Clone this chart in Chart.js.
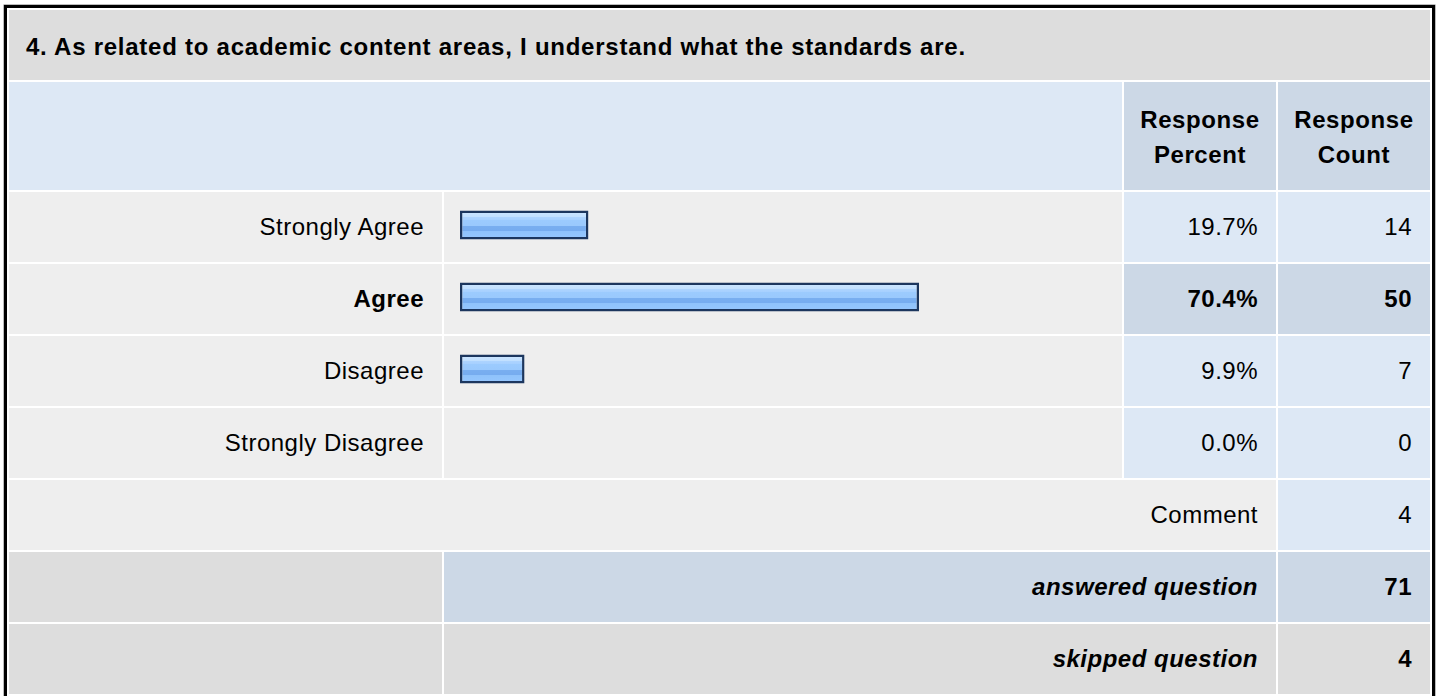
<!DOCTYPE html>
<html><head>
<meta charset="utf-8">
<style>
  body {
    margin: 0;
    background: #fff;
    overflow: hidden;
    font-family: "Liberation Sans", Arial, Helvetica, sans-serif;
    color: #000;
  }

  .frame {
    position: absolute;
    left: 4px;
    top: 5px;
    border: 3px solid #000;
    box-shadow: 0 0 0 0.5px #777;
  }

  table {
    border-collapse: separate;
    border-spacing: 2px;
    table-layout: fixed;
    width: 1425px;
  }

  td, th {
    padding: 0 18px;
    height: 70px;
    font-size: 24px;
    letter-spacing: 0.5px;
    font-weight: normal;
    vertical-align: middle;
    background: #eeeeee;
    white-space: nowrap;
  }

  td.title {
    background: #dddddd;
    font-weight: bold;
    text-align: left;
    height: 66px;
    padding: 4px 0 0 17px;
    letter-spacing: 0.75px;
  }

  .head td { height: 108px; background: #dde8f5; }
  .head th {
    height: 106px;
    background: #ccd8e6;
    font-weight: bold;
    text-align: center;
    line-height: 35px;
    letter-spacing: 0.6px;
    padding: 2px 0 0 0;
  }

  .lbl { text-align: right; }
  .num { text-align: right; background: #dde8f5; }
  .hi { font-weight: bold; }
  .num.hi { background: #ccd8e6; }
  .grey { background: #dddddd; }
  .blue { background: #ccd8e6; }
  .tot { font-weight: bold; font-style: italic; text-align: right; }
  .cnt { font-weight: bold; text-align: right; }

  #bars {
    position: absolute;
    left: 444px;
    top: 189px;
    width: 678px;
    height: 288px;
    z-index: 2;
  }
</style>
<script src="https://cdn.jsdelivr.net/npm/chart.js"></script>
</head>
<body>
<div class="frame">
  <table>
    <colgroup>
      <col style="width:433px"><col style="width:678px"><col style="width:152px"><col style="width:152px">
    </colgroup>
    <tbody id="rows"></tbody>
  </table>
</div>
<div id="bars"><canvas id="chart"></canvas></div>

<script>
const question = '4. As related to academic content areas, I understand what the standards are.';
const headers = ['Response Percent', 'Response Count'];
const categories = ['Strongly Agree', 'Agree', 'Disagree', 'Strongly Disagree'];
const percents = [19.7, 70.4, 9.9, 0.0];
const counts = [14, 50, 7, 0];
const commentCount = 4;
const answered = 71;
const skipped = 4;

// build the table around the chart
const rowsEl = document.getElementById('rows');
const maxIdx = counts.indexOf(Math.max(...counts));
let html = '<tr><td class="title" colspan="4">' + question + '</td></tr>';
html += '<tr class="head"><td colspan="2"></td>' +
  headers.map(h => '<th>' + h.replace(' ', '<br>') + '</th>').join('') + '</tr>';
categories.forEach((c, i) => {
  const hi = i === maxIdx ? ' hi' : '';
  html += '<tr><td class="lbl' + hi + '">' + c + '</td><td></td>' +
    '<td class="num' + hi + '">' + percents[i].toFixed(1) + '%</td>' +
    '<td class="num' + hi + '">' + counts[i] + '</td></tr>';
});
html += '<tr><td class="lbl" colspan="3">Comment</td><td class="num">' + commentCount + '</td></tr>';
html += '<tr><td class="grey"></td><td class="blue tot" colspan="2">answered question</td>' +
  '<td class="blue cnt">' + answered + '</td></tr>';
html += '<tr><td class="grey"></td><td class="grey tot" colspan="2">skipped question</td>' +
  '<td class="grey cnt">' + skipped + '</td></tr>';
rowsEl.innerHTML = html;

// glossy striped fill, one vertical gradient per bar
function barFill(ctx) {
  const chart = ctx.chart;
  if (!chart.chartArea || !chart.scales.y) return '#9ccafd';
  const yc = chart.scales.y.getPixelForValue(ctx.dataIndex);
  const g = chart.ctx.createLinearGradient(0, yc - 14, 0, yc + 14);
  g.addColorStop(0, '#cde6ff');
  g.addColorStop(0.2, '#c2e0ff');
  g.addColorStop(0.21, '#aed4ff');
  g.addColorStop(0.32, '#a6d0ff');
  g.addColorStop(0.33, '#9ccbfe');
  g.addColorStop(0.52, '#9ac9fd');
  g.addColorStop(0.53, '#79aef0');
  g.addColorStop(0.72, '#76acef');
  g.addColorStop(0.73, '#8fc2fb');
  g.addColorStop(1, '#96c7fe');
  return g;
}

new Chart(document.getElementById('chart'), {
  type: 'bar',
  data: {
    labels: categories,
    datasets: [{
      data: percents,
      backgroundColor: barFill,
      borderColor: '#1c365e',
      borderWidth: 2.5,
      borderSkipped: false,
      inflateAmount: 0,
      barThickness: 29
    }]
  },
  options: {
    indexAxis: 'y',
    responsive: true,
    maintainAspectRatio: false,
    animation: false,
    layout: { padding: { left: 16, right: 10, top: 0, bottom: 0 } },
    scales: {
      x: { display: false, min: 0, max: 100 },
      y: { display: false }
    },
    plugins: {
      legend: { display: false },
      tooltip: { enabled: false }
    }
  }
});
</script>
</body></html>
